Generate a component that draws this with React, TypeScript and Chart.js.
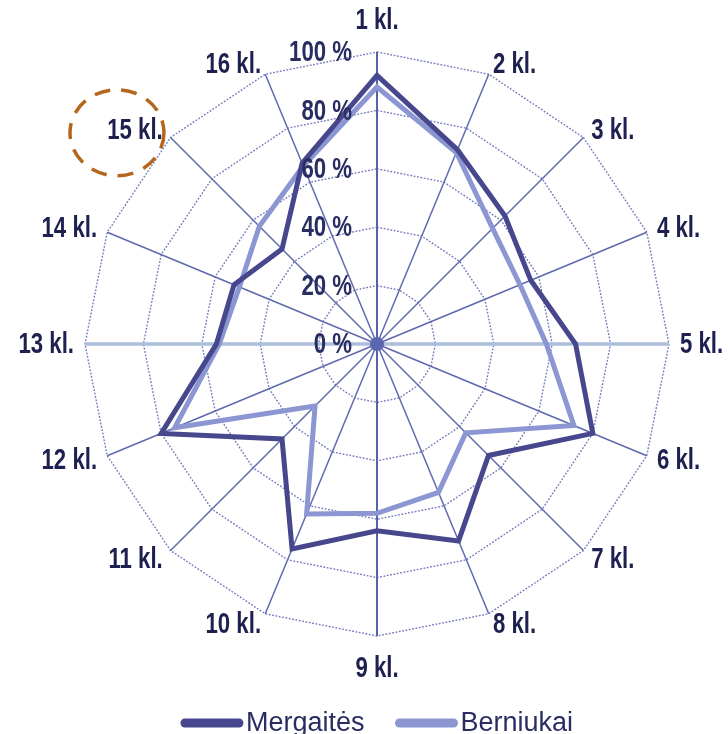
import React, { useEffect, useRef } from "react";
import { Chart, registerables } from "chart.js";

Chart.register(...registerables);

const categories = [
  "1 kl.", "2 kl.", "3 kl.", "4 kl.", "5 kl.", "6 kl.", "7 kl.", "8 kl.",
  "9 kl.", "10 kl.", "11 kl.", "12 kl.", "13 kl.", "14 kl.", "15 kl.", "16 kl.",
];
const mergaites = [92, 72, 62, 57, 68, 80, 54, 73, 64, 76, 46, 80, 55, 53, 46, 67];
const berniukai = [88, 71, 56, 53, 58, 73, 43, 55, 58, 63, 30, 75, 54, 51, 57, 66];
const seriesNames = ["Mergaitės", "Berniukai"];
const tickValues = [0, 20, 40, 60, 80, 100];
const tickLabels = tickValues.map((v) => `${v} %`);
const highlightedCategory = "15 kl.";

const DARK = "#47478d";
const LIGHT = "#8b96d2";
const LABEL_FONT = "bold 30px 'Liberation Sans Narrow', 'Liberation Sans', sans-serif";
const SX = 0.74;

function drawCondensed(ctx: CanvasRenderingContext2D, text: string, x: number, y: number, align: string) {
  const w = ctx.measureText(text).width * SX;
  const left = align === "left" ? x : align === "right" ? x - w : x - w / 2;
  ctx.save();
  ctx.translate(left, y);
  ctx.scale(SX, 1);
  ctx.textAlign = "left";
  ctx.fillText(text, 0, 0);
  ctx.restore();
  return { left, w };
}

const decorPlugin = {
  id: "decor",
  beforeDatasetsDraw(chart: any) {
    const s = chart.scales.r;
    const ctx = chart.ctx as CanvasRenderingContext2D;
    ctx.save();
    ctx.fillStyle = "#5a66ad";
    ctx.beginPath();
    ctx.arc(s.xCenter, s.yCenter, 7, 0, Math.PI * 2);
    ctx.fill();
    ctx.restore();
  },
  afterDatasetsDraw(chart: any) {
    const s = chart.scales.r;
    const ctx = chart.ctx as CanvasRenderingContext2D;
    const R = s.drawingArea;
    ctx.save();
    ctx.font = LABEL_FONT;
    ctx.textBaseline = "middle";

    // tick labels
    ctx.fillStyle = "#2a2d62";
    tickValues.forEach((v, i) => {
      const d = s.getDistanceFromCenterForValue(v);
      drawCondensed(ctx, tickLabels[i], s.xCenter - 25, s.yCenter - d + 1, "right");
    });

    // point labels
    ctx.fillStyle = "#1e2050";
    const n = categories.length;
    categories.forEach((lab, i) => {
      const ang = (i / n) * Math.PI * 2;
      const sin = Math.sin(ang);
      let align = "center";
      let p;
      if (Math.abs(sin) < 0.1) {
        p = s.getPointPosition(i, R + 32);
      } else {
        p = s.getPointPosition(i, R + 11);
        align = sin > 0 ? "left" : "right";
      }
      const r = drawCondensed(ctx, lab, p.x, p.y + 1, align);
      if (lab === highlightedCategory) {
        const cx = r.left + r.w / 2 - 18;
        const cy = p.y + 3;
        ctx.save();
        ctx.strokeStyle = "#b3661c";
        ctx.lineWidth = 3.5;
        ctx.setLineDash([16, 11]);
        ctx.beginPath();
        ctx.ellipse(cx, cy, 47, 43, 0, 0, Math.PI * 2);
        ctx.stroke();
        ctx.restore();
      }
    });

    // legend
    ctx.font = "27px 'Liberation Sans', sans-serif";
    ctx.textBaseline = "alphabetic";
    const colors = [DARK, LIGHT];
    const lineW = 62;
    const gapT = 3;
    const gapItem = 31;
    const widths = seriesNames.map((t) => ctx.measureText(t).width);
    const total = widths.reduce((a, w) => a + lineW + gapT + w, 0) + gapItem;
    let x = s.xCenter - total / 2;
    const baseY = chart.height - 3;
    seriesNames.forEach((t, i) => {
      ctx.strokeStyle = colors[i];
      ctx.lineWidth = 9;
      ctx.lineCap = "round";
      ctx.beginPath();
      ctx.moveTo(x + 4, baseY - 8);
      ctx.lineTo(x + lineW - 4, baseY - 8);
      ctx.stroke();
      ctx.fillStyle = "#2a2c62";
      ctx.textAlign = "left";
      ctx.fillText(t, x + lineW + gapT, baseY);
      x += lineW + gapT + widths[i] + gapItem;
    });
    ctx.restore();
  },
};

export default function App() {
  const ref = useRef<HTMLCanvasElement | null>(null);
  useEffect(() => {
    if (!ref.current) return;
    const chart = new Chart(ref.current, {
      type: "radar",
      data: {
        labels: categories,
        datasets: [
          {
            label: seriesNames[0],
            data: mergaites,
            borderColor: DARK,
            backgroundColor: DARK,
            borderWidth: 5,
            fill: false,
            pointRadius: 0,
            pointHoverRadius: 0,
            borderJoinStyle: "miter",
          },
          {
            label: seriesNames[1],
            data: berniukai,
            borderColor: LIGHT,
            backgroundColor: LIGHT,
            borderWidth: 5,
            fill: false,
            pointRadius: 0,
            pointHoverRadius: 0,
            borderJoinStyle: "miter",
          },
        ],
      },
      options: {
        animation: false,
        responsive: true,
        maintainAspectRatio: false,
        layout: { padding: { left: 85, right: 59, top: 52, bottom: 98 } },
        plugins: { legend: { display: false }, tooltip: { enabled: false } },
        scales: {
          r: {
            min: 0,
            max: 100,
            ticks: { display: false, stepSize: 20 },
            pointLabels: { display: false },
            grid: { color: "#737bbd", lineWidth: 1.4, circular: false },
            border: { dash: [1.8, 1.6] },
            angleLines: {
              color: (c: any) => (c.index % 8 === 0 ? "#5563ab" : c.index % 4 === 0 ? "#abbedc" : "#5f69ae"),
              lineWidth: (c: any) => (c.index % 8 === 0 ? 2 : c.index % 4 === 0 ? 3.5 : 1.5),
            },
          },
        },
      } as any,
      plugins: [decorPlugin],
    });
    return () => chart.destroy();
  }, []);
  return (
    <div style={{ position: "fixed", left: 0, top: 0, width: 728, height: 734, background: "#fff" }}>
      <canvas ref={ref} />
    </div>
  );
}
